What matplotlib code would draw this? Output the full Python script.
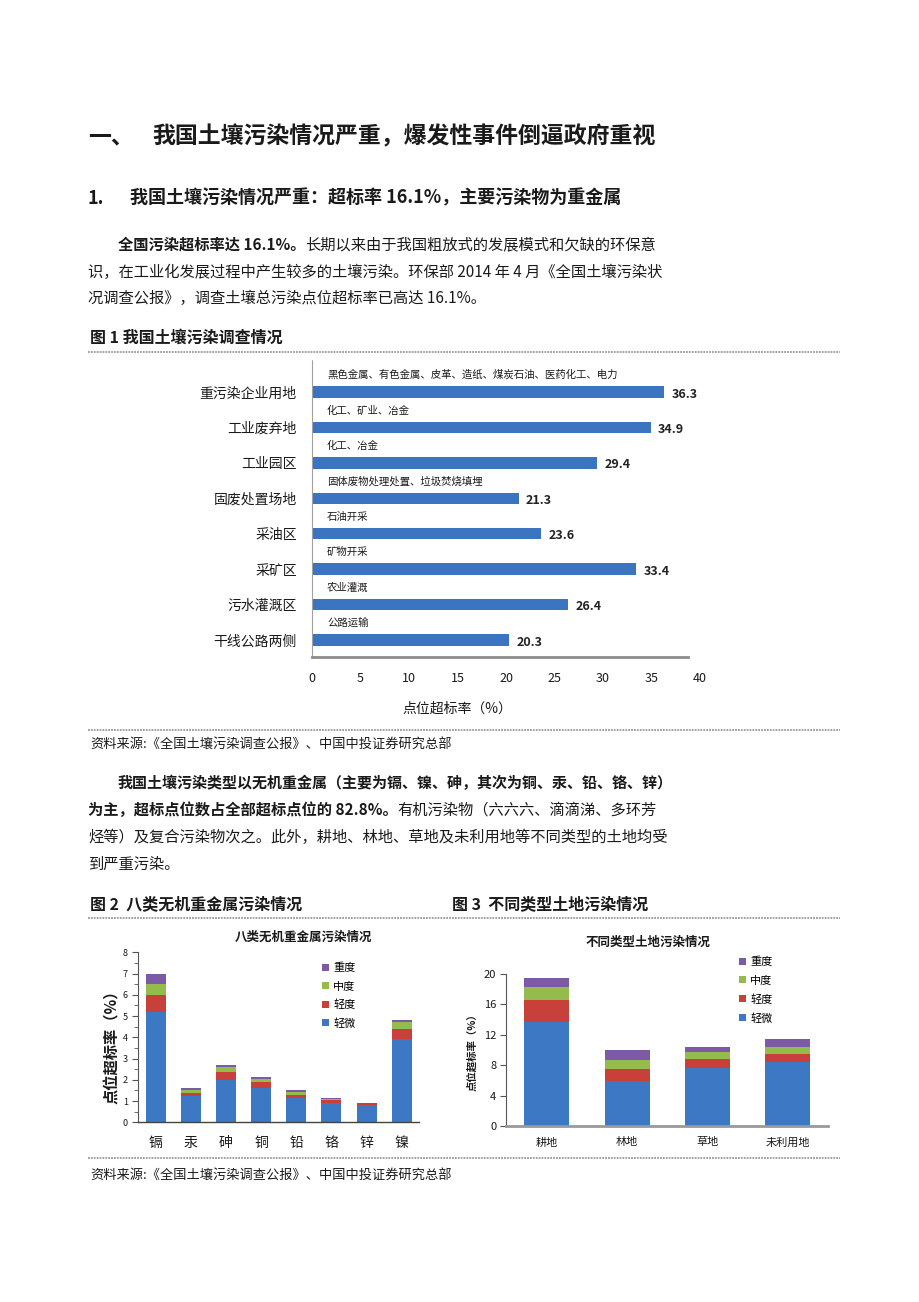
import matplotlib
matplotlib.use('Agg')
import matplotlib.pyplot as plt
from matplotlib.lines import Line2D
from matplotlib.ticker import MultipleLocator
import numpy as np

plt.rcParams['font.family'] = ['Noto Sans CJK SC', 'DejaVu Sans']
plt.rcParams['axes.unicode_minus'] = False

# ---------------- data ----------------
sites = ['重污染企业用地', '工业废弃地', '工业园区', '固废处置场地',
         '采油区', '采矿区', '污水灌溉区', '干线公路两侧']
site_rates = [36.3, 34.9, 29.4, 21.3, 23.6, 33.4, 26.4, 20.3]
site_sources = ['黑色金属、有色金属、皮革、造纸、煤炭石油、医药化工、电力',
                '化工、矿业、冶金', '化工、冶金', '固体废物处理处置、垃圾焚烧填埋',
                '石油开采', '矿物开采', '农业灌溉', '公路运输']
rate_ticks = [0, 5, 10, 15, 20, 25, 30, 35, 40]

levels = ['轻微', '轻度', '中度', '重度']

metals = ['镉', '汞', '砷', '铜', '铅', '铬', '锌', '镍']
metal_slight = [5.2, 1.25, 2.0, 1.6, 1.15, 0.93, 0.8, 3.92]
metal_mild = [0.8, 0.15, 0.38, 0.3, 0.15, 0.14, 0.09, 0.47]
metal_moderate = [0.5, 0.12, 0.22, 0.13, 0.11, 0.03, 0.02, 0.33]
metal_severe = [0.5, 0.08, 0.1, 0.08, 0.09, 0.03, 0.02, 0.11]
metal_ticks = [0, 1, 2, 3, 4, 5, 6, 7, 8]

lands = ['耕地', '林地', '草地', '未利用地']
land_slight = [13.7, 5.9, 7.6, 8.4]
land_mild = [2.8, 1.6, 1.2, 1.1]
land_moderate = [1.8, 1.2, 0.9, 0.9]
land_severe = [1.1, 1.3, 0.7, 1.0]
land_ticks = [0, 4, 8, 12, 16, 20]

# ---------------- page ----------------
W, H = 920, 1302
fig = plt.figure(figsize=(W / 100, H / 100), dpi=100)
fig.patch.set_facecolor('white')
renderer = fig.canvas.get_renderer()

TXT = '#1a1a1a'
BLUE, RED, GREEN, PURPLE = '#3D78C5', '#C8403A', '#94BC4C', '#7D5AA6'
BAR1 = '#3B74C0'


def fx(x):
    return x / W


def fy(y):
    return 1 - y / H


def T(x, y, s, size, bold=False, **kw):
    kw.setdefault('va', 'center')
    kw.setdefault('color', TXT)
    return fig.text(fx(x), fy(y), s, fontsize=size,
                    fontweight='bold' if bold else 'normal', **kw)


def mixed(x, y, parts, size):
    for s, b in parts:
        t = T(x, y, s, size, b)
        bb = t.get_window_extent(renderer)
        x = bb.x1


def rule(y, x0=88, x1=840):
    fig.add_artist(Line2D([fx(x0), fx(x1)], [fy(y), fy(y)], color='#9a9a9a',
                          lw=1.3, linestyle=(0, (1, 0.6))))


def axes_px(l, t, r, b):
    return fig.add_axes([l / W, 1 - b / H, (r - l) / W, (b - t) / H])


SOURCE = '资料来源:《全国土壤污染调查公报》、中国中投证券研究总部'

# headings
T(88, 137, '一、', 16.5, True)
T(152, 137, '我国土壤污染情况严重，爆发性事件倒逼政府重视', 16.5, True)
T(88, 198, '1.', 13, True)
T(130, 198, '我国土壤污染情况严重：超标率 16.1%，主要污染物为重金属', 13, True)

# paragraph 1
PS = 11
mixed(118, 245, [('全国污染超标率达 16.1%。', True),
                 ('长期以来由于我国粗放式的发展模式和欠缺的环保意', False)], PS)
T(88, 272, '识，在工业化发展过程中产生较多的土壤污染。环保部 2014 年 4 月《全国土壤污染状', PS)
T(88, 298, '况调查公报》，调查土壤总污染点位超标率已高达 16.1%。', PS)

# figure 1 caption
T(90, 338, '图 1 我国土壤污染调查情况', 11.5, True)
rule(352)

# ---------------- chart 1 ----------------
ax1 = axes_px(312, 360, 700, 657)
ypos = np.arange(len(sites))
ax1.barh(ypos, site_rates, height=0.32, color=BAR1)
ax1.set_xlim(0, 40)
ax1.set_ylim(7.48, -0.903)
ax1.set_xticks(rate_ticks)
ax1.set_xticklabels([str(v) for v in rate_ticks], fontsize=9, color=TXT)
ax1.set_yticks(ypos)
ax1.set_yticklabels(sites, fontsize=10, color=TXT)
ax1.tick_params(axis='both', length=0)
ax1.tick_params(axis='x', pad=11)
ax1.tick_params(axis='y', pad=11)
for s in ['top', 'right']:
    ax1.spines[s].set_visible(False)
ax1.spines['left'].set_color('#a0a0a0')
ax1.spines['left'].set_linewidth(0.8)
ax1.spines['left'].set_linestyle((0, (1, 1)))
ax1.spines['bottom'].set_color('#8c8c8c')
ax1.spines['bottom'].set_linewidth(2)
ax1.spines['bottom'].set_bounds(0, 38.8)
for i, (v, src) in enumerate(zip(site_rates, site_sources)):
    ax1.text(1.55, i - 0.48, src, fontsize=7.5, va='center', ha='left', color=TXT)
    ax1.text(v + 0.75, i + 0.06, f'{v:.1f}', fontsize=9, fontweight='bold',
             va='center', ha='left', color='#222222')
ax1.set_xlabel('点位超标率（%）', fontsize=10, color=TXT)
ax1.xaxis.set_label_coords(0.376, -0.15)

rule(730)
T(90, 744, SOURCE, 9.5)

# paragraph 2
T(118, 783, '我国土壤污染类型以无机重金属（主要为镉、镍、砷，其次为铜、汞、铅、铬、锌）', 10.8, True)
mixed(88, 810, [('为主，超标点位数占全部超标点位的 82.8%。', True),
                ('有机污染物（六六六、滴滴涕、多环芳', False)], PS)
T(88, 837, '烃等）及复合污染物次之。此外，耕地、林地、草地及未利用地等不同类型的土地均受', PS)
T(88, 864, '到严重污染。', PS)

T(90, 904, '图 2  八类无机重金属污染情况', 11.5, True)
T(452, 904, '图 3  不同类型土地污染情况', 11.5, True)
rule(918)


def stacked(ax, cats, series, width):
    x = np.arange(len(cats))
    bottom = np.zeros(len(cats))
    handles = []
    for vals, col, lab in zip(series, [BLUE, RED, GREEN, PURPLE], levels):
        b = ax.bar(x, vals, width=width, bottom=bottom, color=col, label=lab)
        bottom = bottom + np.array(vals)
        handles.append(b)
    return handles


# ---------------- chart 2 ----------------
ax2 = axes_px(137.7, 952.3, 419, 1122.3)
h2 = stacked(ax2, metals, [metal_slight, metal_mild, metal_moderate, metal_severe], 0.57)
ax2.set_xlim(-0.51, 7.49)
ax2.set_ylim(0, 8)
ax2.set_yticks(metal_ticks)
ax2.set_yticklabels([str(v) for v in metal_ticks], fontsize=6.5, color=TXT)
ax2.yaxis.set_minor_locator(MultipleLocator(0.5))
ax2.tick_params(axis='y', which='major', length=4, direction='out', color='#555', pad=3)
ax2.tick_params(axis='y', which='minor', length=3, direction='out', color='#555')
ax2.set_xticks(np.arange(len(metals)))
ax2.set_xticklabels(metals, fontsize=10, color=TXT)
ax2.tick_params(axis='x', length=0, pad=10)
for s in ['top', 'right']:
    ax2.spines[s].set_visible(False)
ax2.spines['left'].set_color('#555')
ax2.spines['left'].set_linewidth(0.8)
ax2.spines['bottom'].set_color('#444')
ax2.spines['bottom'].set_linewidth(1)
T(303, 937, '八类无机重金属污染情况', 9, True, ha='center')
T(112, 1043, '点位超标率（%）', 11, True, ha='center', rotation=90)
ax2.legend(handles=h2[::-1], labels=levels[::-1], loc='upper left',
           bbox_to_anchor=(fx(322), fy(963)), bbox_transform=fig.transFigure,
           frameon=False, fontsize=8, handlelength=0.6, handleheight=0.6,
           handletextpad=0.4, labelspacing=0.72, borderpad=0, borderaxespad=0)

# ---------------- chart 3 ----------------
ax3 = axes_px(506, 973.7, 828, 1126.3)
h3 = stacked(ax3, lands, [land_slight, land_mild, land_moderate, land_severe], 0.56)
ax3.set_xlim(-0.507, 3.5)
ax3.set_ylim(0, 20)
ax3.set_yticks(land_ticks)
ax3.set_yticklabels([str(v) for v in land_ticks], fontsize=8, color=TXT)
ax3.tick_params(axis='y', length=4, direction='out', color='#555', pad=3)
ax3.set_xticks(np.arange(len(lands)))
ax3.set_xticklabels(lands, fontsize=8, color=TXT)
ax3.tick_params(axis='x', length=0, pad=8)
for s in ['top', 'right']:
    ax3.spines[s].set_visible(False)
ax3.spines['left'].set_color('#555')
ax3.spines['left'].set_linewidth(0.8)
ax3.spines['bottom'].set_color('#999999')
ax3.spines['bottom'].set_linewidth(2)
T(648, 942, '不同类型土地污染情况', 9, True, ha='center')
T(472, 1050, '点位超标率（%）', 7.5, True, ha='center', rotation=90)
ax3.legend(handles=h3[::-1], labels=levels[::-1], loc='upper left',
           bbox_to_anchor=(fx(739), fy(957)), bbox_transform=fig.transFigure,
           frameon=False, fontsize=8, handlelength=0.6, handleheight=0.6,
           handletextpad=0.4, labelspacing=0.75, borderpad=0, borderaxespad=0)

rule(1158)
T(90, 1175, SOURCE, 9.5)

fig.savefig('out.png', dpi=100, facecolor='white')
